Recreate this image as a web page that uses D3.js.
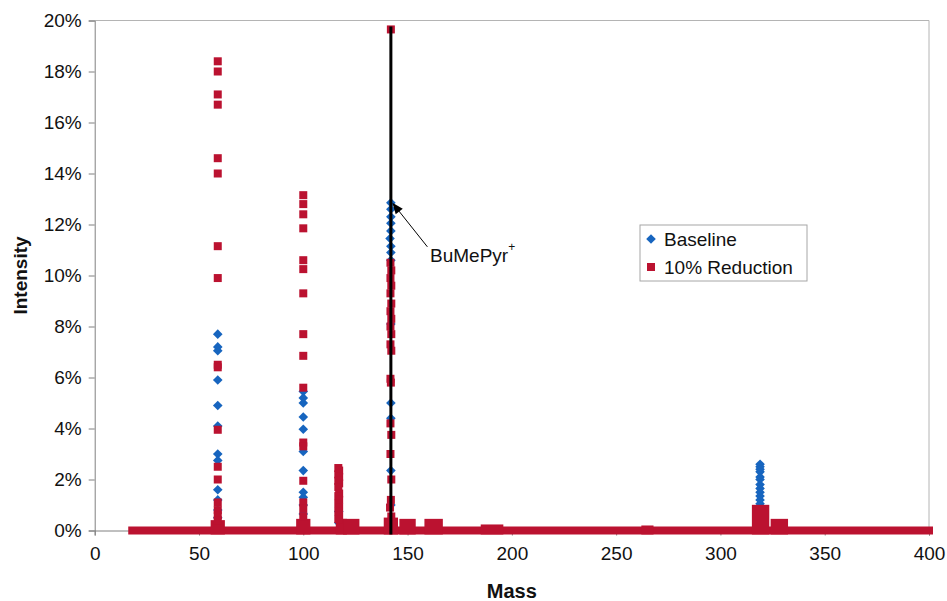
<!DOCTYPE html>
<html>
<head>
<meta charset="utf-8">
<script src="https://cdn.jsdelivr.net/npm/d3@7"></script>
<style>
  body { margin: 0; background: #ffffff; }
  text { font-family: Arial, "Liberation Sans", Helvetica, sans-serif; fill: #111; }
</style>
</head>
<body>
<svg id="chart" width="947" height="601"></svg>
<script>
// Peak points of the baseline run: mass (m/z) and relative intensity (%)
const baselineMass = [
  59, 59, 59, 59, 59, 59, 59, 59, 59, 59, 59, 59,
  100, 100, 100, 100, 100, 100, 100, 100, 100, 100, 100,
  117, 117,
  142, 142, 142, 142, 142, 141.6, 142, 142, 142, 142, 142, 142, 142, 142,
  319, 319, 319, 319, 319, 319, 319, 319, 319, 319, 319, 319, 319, 319.6, 319.6, 319.6
];
const baselineIntensity = [
  7.7, 7.2, 7.05, 5.9, 4.9, 4.1, 3.0, 2.75, 1.6, 1.2, 0.8, 0.5,
  5.45, 5.2, 5.0, 4.45, 3.97, 3.1, 2.35, 1.5, 1.3, 1.0, 0.65,
  0.75, 0.3,
  12.85, 12.6, 12.3, 12.05, 11.75, 11.45, 11.15, 10.9, 10.6, 8.1, 5.0, 4.4, 2.35, 1.0,
  2.6, 2.5, 2.4, 2.3, 2.1, 2.0, 1.8, 1.65, 1.5, 1.35, 1.2, 1.05, 0.9, 0.75, 0.6, 0.45
];

// Peak points of the 10% reduction run
const reductionMass = [
  59, 59, 59, 59, 59, 59, 59, 59, 59, 59, 59, 59, 59, 59, 59, 59, 59,
  100, 100, 100, 100, 100, 100, 100, 100, 100, 100, 100, 100, 100, 100, 100, 100,
  116.8, 117.2, 116.8, 117.2, 116.8, 117.2, 116.8, 117.2, 116.8, 117.2, 116.8, 117.2, 116.8, 117.2, 116.8,
  142, 141.8, 142.2, 141.8, 142.2, 141.8, 142.2, 141.8, 142.2, 141.8, 142.2, 141.8,
  142.2, 141.8, 142, 141.8, 142.2, 141.8, 142.2, 142, 141.6, 142.2
];
const reductionIntensity = [
  18.4, 18.0, 17.1, 16.7, 14.6, 14.0, 11.15, 9.9, 6.5, 6.4, 3.95, 2.5, 2.0, 1.1, 0.8, 0.6, 0.4,
  13.15, 12.8, 12.4, 11.85, 10.6, 10.25, 9.3, 7.7, 6.85, 5.6, 3.45, 3.3, 1.95, 1.1, 0.85, 0.55,
  2.45, 2.35, 2.2, 2.1, 1.95, 1.85, 1.7, 1.45, 1.35, 1.2, 1.05, 0.9, 0.75, 0.6, 0.45,
  19.65, 10.5, 10.2, 9.9, 9.6, 9.3, 8.9, 8.6, 8.3, 8.0, 7.7, 7.3,
  7.05, 5.95, 5.8, 4.2, 3.75, 3.0, 2.0, 1.2, 0.9, 0.55
];

// Continuous low-level signal of the 10% reduction run: [start mass, end mass, intensity %]
const reductionFloor = [
  [18, 400, 0.0],
  [57.5, 60.5, 0.25],
  [98.5, 101.5, 0.3],
  [117.5, 119, 0.3],
  [121, 125, 0.3],
  [140.5, 143.5, 0.35],
  [148, 152, 0.3],
  [160, 165, 0.3],
  [187, 194, 0.08],
  [264, 266, 0.04],
  [317, 321.5, 0.85],
  [326, 330.5, 0.3]
];

const xTicks = [0, 50, 100, 150, 200, 250, 300, 350, 400];
const yTicks = [0, 2, 4, 6, 8, 10, 12, 14, 16, 18, 20];
const seriesNames = ["Baseline", "10% Reduction"];
const seriesColors = ["#1765bf", "#bb1230"];

// Annotated ion: the vertical marker spans to the top of the reduction peak,
// the arrow points at the top of the baseline peak.
const ionLabel = "BuMePyr";
const ionMass = 142;
const ionArrowIntensity = 12.85;
const ionTopIntensity = 19.65;

const svg = d3.select("#chart");
const W = 947, H = 601;
const margin = { left: 94.7, right: W - 929, top: 20.5, bottom: H - 530.5 };

const x = d3.scaleLinear().domain([0, 400]).range([margin.left, W - margin.right]);
const y = d3.scaleLinear().domain([0, 20]).range([H - margin.bottom, margin.top]);

// Plot area frame (top and right edges)
svg.append("path")
  .attr("d", `M${x(0)},${y(20)}H${x(400)}V${y(0)}`)
  .attr("fill", "none").attr("stroke", "#b4b4b4").attr("stroke-width", 1);

// Axes
const yAxis = d3.axisLeft(y).tickValues(yTicks).tickFormat(d => d + "%").tickSizeOuter(0).tickSize(6).tickPadding(7);
const gy = svg.append("g").attr("transform", `translate(${x(0)},0)`).call(yAxis);
const xAxis = d3.axisBottom(x).tickValues(xTicks).tickFormat(d3.format("d")).tickSizeOuter(0).tickSize(5).tickPadding(11);
const gx = svg.append("g").attr("transform", `translate(0,${y(0)})`).call(xAxis);
[gx, gy].forEach(g => {
  g.select(".domain").attr("stroke", "#808080");
  g.selectAll(".tick line").attr("stroke", "#808080");
  g.selectAll(".tick text").style("font-size", "19px").style("font-family", "Arial, 'Liberation Sans', sans-serif").attr("fill", "#111");
});

// Axis titles
svg.append("text").attr("x", x(200)).attr("y", 598).attr("text-anchor", "middle")
  .style("font-size", "20px").style("font-weight", "bold").text("Mass");
svg.append("text").attr("transform", `translate(27,${y(10)}) rotate(-90)`).attr("text-anchor", "middle")
  .style("font-size", "19px").style("font-weight", "bold").text("Intensity");

const S = 8; // marker size in px
const diamond = "M0,-4.8L4.8,0L0,4.8L-4.8,0Z";

// Baseline series (diamonds)
svg.append("g").selectAll("path")
  .data(baselineMass.map((m, i) => [m, baselineIntensity[i]]))
  .join("path")
  .attr("d", diamond)
  .attr("transform", d => `translate(${x(d[0])},${y(d[1])})`)
  .attr("fill", seriesColors[0]);

// 10% reduction: low-level continuous signal
svg.append("g").selectAll("rect")
  .data(reductionFloor)
  .join("rect")
  .attr("x", d => x(d[0]) - S / 2)
  .attr("width", d => x(d[1]) - x(d[0]) + S)
  .attr("y", d => y(d[2]) - S / 2)
  .attr("height", d => y(0) - y(d[2]) + S)
  .attr("fill", seriesColors[1]);

// 10% reduction series (squares)
svg.append("g").selectAll("rect")
  .data(reductionMass.map((m, i) => [m, reductionIntensity[i]]))
  .join("rect")
  .attr("x", d => x(d[0]) - S / 2)
  .attr("y", d => y(d[1]) - S / 2)
  .attr("width", S).attr("height", S)
  .attr("fill", seriesColors[1]);

// Vertical marker through the BuMePyr+ peak
svg.append("line")
  .attr("x1", x(ionMass)).attr("x2", x(ionMass))
  .attr("y1", y(0) + 4).attr("y2", y(ionTopIntensity) - 3)
  .attr("stroke", "#000").attr("stroke-width", 3);

// Arrow from the label to the baseline peak top
const tipX = x(ionMass) + 1.5, tipY = y(ionArrowIntensity);
const tailX = tipX + 35, tailY = tipY + 44;
const ang = Math.atan2(tailY - tipY, tailX - tipX);
svg.append("line")
  .attr("x1", tailX).attr("y1", tailY).attr("x2", tipX + 6 * Math.cos(ang)).attr("y2", tipY + 6 * Math.sin(ang))
  .attr("stroke", "#000").attr("stroke-width", 1);
const hl = 11, hw = 4.5;
const bx = tipX + hl * Math.cos(ang), by = tipY + hl * Math.sin(ang);
svg.append("path")
  .attr("d", `M${tipX},${tipY}L${bx - hw * Math.sin(ang)},${by + hw * Math.cos(ang)}L${bx + hw * Math.sin(ang)},${by - hw * Math.cos(ang)}Z`)
  .attr("fill", "#000");

const lbl = svg.append("text").attr("x", 430).attr("y", 262).style("font-size", "19px");
lbl.append("tspan").text(ionLabel);
lbl.append("tspan").attr("dy", -11).style("font-size", "12px").text("+");

// Legend
const lg = svg.append("g").attr("transform", "translate(640,225)");
lg.append("rect").attr("width", 167).attr("height", 56).attr("fill", "#fff").attr("stroke", "#a6a6a6");
lg.append("path").attr("d", diamond).attr("transform", "translate(11,14)").attr("fill", seriesColors[0]);
lg.append("rect").attr("x", 7).attr("y", 38).attr("width", S).attr("height", S).attr("fill", seriesColors[1]);
lg.append("text").attr("x", 24).attr("y", 21).style("font-size", "19px").text(seriesNames[0]);
lg.append("text").attr("x", 24).attr("y", 49).style("font-size", "19px").text(seriesNames[1]);
</script>
</body>
</html>
